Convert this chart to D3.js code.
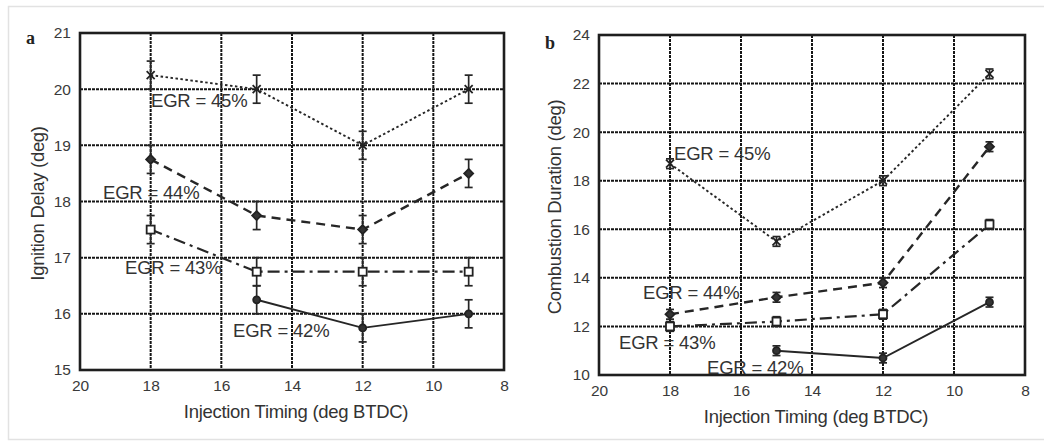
<!DOCTYPE html>
<html>
<head>
<meta charset="utf-8">
<script src="https://cdn.jsdelivr.net/npm/d3@7"></script>
<style>
  html, body { margin: 0; padding: 0; background: #fff; }
  svg { display: block; }
  text { font-family: "Liberation Sans", Arial, sans-serif; }
</style>
</head>
<body>
<svg id="chart" width="1044" height="443"></svg>
<script>
// Injection timing (deg BTDC)
const timings = [18, 15, 12, 9];
const xTicks = [20, 18, 16, 14, 12, 10, 8];

// Panel a: ignition delay (deg) per EGR rate
const delay45 = [20.25, 20.0, 19.0, 20.0];
const delay44 = [18.75, 17.75, 17.5, 18.5];
const delay43 = [17.5, 16.75, 16.75, 16.75];
const delay42 = [null, 16.25, 15.75, 16.0];
const delayErr = [0.25, 0.25, 0.25, 0.25];
const delayTicks = [15, 16, 17, 18, 19, 20, 21];

// Panel b: combustion duration (deg) per EGR rate
const dur45 = [18.7, 15.5, 18.0, 22.4];
const dur44 = [12.5, 13.2, 13.8, 19.4];
const dur43 = [12.0, 12.2, 12.5, 16.2];
const dur42 = [null, 11.0, 10.7, 13.0];
const durErr = [0.2, 0.2, 0.2, 0.2];
const durTicks = [10, 12, 14, 16, 18, 20, 22, 24];

const egrLabels = ["EGR = 45%", "EGR = 44%", "EGR = 43%", "EGR = 42%"];

const svg = d3.select("#chart");

// faint outer frame of the figure
svg.append("rect")
  .attr("x", 8.5).attr("y", 6.5).attr("width", 1040).attr("height", 433)
  .attr("fill", "none").attr("stroke", "#e2e2e2").attr("stroke-width", 1.5);

const styles = [
  { dash: "2.5,2.5", width: 1.9, marker: "x" },
  { dash: "9,6", width: 2.4, marker: "diamond" },
  { dash: "12,5,3,5", width: 2.2, marker: "square" },
  { dash: null, width: 1.9, marker: "dot" }
];

function drawPanel(cfg) {
  const { left, right, top, bottom, yDomain, yTicks, series, err, letter, letterPos, yTitle, yTitleOff, labels } = cfg;
  const g = svg.append("g");
  const x = d3.scaleLinear().domain([20, 8]).range([left, right]);
  const y = d3.scaleLinear().domain(yDomain).range([bottom, top]);

  // grid
  const grid = g.append("g").attr("stroke", "#151515").attr("stroke-width", 2).attr("stroke-dasharray", "3,1");
  grid.selectAll("line.v").data(xTicks.filter(t => t !== 20 && t !== 8)).join("line")
    .attr("x1", d => x(d)).attr("x2", d => x(d)).attr("y1", top).attr("y2", bottom);
  grid.selectAll("line.h").data(yTicks.filter(t => t !== yDomain[0] && t !== yDomain[1])).join("line")
    .attr("x1", left).attr("x2", right).attr("y1", d => y(d)).attr("y2", d => y(d));

  // axes
  const xAxis = d3.axisBottom(x).tickValues(xTicks).tickSize(0).tickPadding(10).tickFormat(d3.format("d"));
  const yAxis = d3.axisLeft(y).tickValues(yTicks).tickSize(0).tickPadding(9).tickFormat(d3.format("d"));
  const gx = g.append("g").attr("transform", `translate(0,${bottom})`).call(xAxis);
  const gy = g.append("g").attr("transform", `translate(${left},0)`).call(yAxis);
  [gx, gy].forEach(a => {
    a.select(".domain").remove();
    a.selectAll("text").attr("fill", "#3a3a3a").style("font-size", "15.5px");
  });

  // frame
  g.append("rect").attr("x", left).attr("y", top).attr("width", right - left).attr("height", bottom - top)
    .attr("fill", "none").attr("stroke", "#1e1e1e").attr("stroke-width", 2.6);

  // series
  series.forEach((vals, i) => {
    const st = styles[i];
    const pts = timings.map((t, j) => ({ t, v: vals[j], e: err[j] })).filter(p => p.v != null);
    const line = d3.line().x(p => x(p.t)).y(p => y(p.v));
    g.append("path").attr("d", line(pts)).attr("fill", "none").attr("stroke", "#262626")
      .attr("stroke-width", st.width).attr("stroke-dasharray", st.dash);

    // error bars
    const eb = g.append("g").attr("stroke", "#262626").attr("stroke-width", 1.7);
    pts.forEach(p => {
      const cx = x(p.t), y1 = y(p.v + p.e), y2 = y(p.v - p.e);
      eb.append("line").attr("x1", cx).attr("x2", cx).attr("y1", y1).attr("y2", y2);
      eb.append("line").attr("x1", cx - 4).attr("x2", cx + 4).attr("y1", y1).attr("y2", y1);
      eb.append("line").attr("x1", cx - 4).attr("x2", cx + 4).attr("y1", y2).attr("y2", y2);
    });

    // markers
    const mk = g.append("g").attr("stroke", "#222").attr("stroke-width", 1.8);
    pts.forEach(p => {
      const cx = x(p.t), cy = y(p.v);
      if (st.marker === "x") {
        mk.append("path").attr("d", `M${cx-4},${cy-4}L${cx+4},${cy+4}M${cx-4},${cy+4}L${cx+4},${cy-4}`).attr("fill", "none");
      } else if (st.marker === "diamond") {
        mk.append("path").attr("d", `M${cx},${cy-4.5}L${cx+4.5},${cy}L${cx},${cy+4.5}L${cx-4.5},${cy}Z`).attr("fill", "#333");
      } else if (st.marker === "square") {
        mk.append("rect").attr("x", cx - 4).attr("y", cy - 4).attr("width", 8).attr("height", 8).attr("fill", "#fff");
      } else {
        mk.append("circle").attr("cx", cx).attr("cy", cy).attr("r", 3.5).attr("fill", "#333");
      }
    });
  });

  // series labels
  labels.forEach((l, i) => {
    g.append("text").attr("x", l[0]).attr("y", l[1]).attr("fill", "#333")
      .style("font-size", "18.5px").style("letter-spacing", "-0.2px").text(egrLabels[i]);
  });

  // axis titles
  g.append("text").attr("x", (left + right) / 2 + 4).attr("y", bottom + 48).attr("text-anchor", "middle")
    .attr("fill", "#333").style("font-size", "18.5px").style("letter-spacing", "-0.3px")
    .text("Injection Timing (deg BTDC)");
  g.append("text").attr("transform", `translate(${left - yTitleOff},${(top + bottom) / 2 + 2}) rotate(-90)`)
    .attr("text-anchor", "middle").attr("fill", "#333").style("font-size", "18.5px").style("letter-spacing", "-0.3px")
    .text(yTitle);

  // panel letter
  g.append("text").attr("x", letterPos[0]).attr("y", letterPos[1]).attr("fill", "#222")
    .style("font-family", "'Liberation Serif', 'Times New Roman', serif").style("font-weight", "bold")
    .style("font-size", "18px").text(letter);
}

drawPanel({
  left: 80, right: 504, top: 33, bottom: 370,
  yDomain: [15, 21], yTicks: delayTicks,
  series: [delay45, delay44, delay43, delay42], err: delayErr,
  letter: "a", letterPos: [26, 44], yTitleOff: 36,
  yTitle: "Ignition Delay (deg)",
  labels: [[151, 107], [103, 199], [125, 274], [233, 337]]
});

drawPanel({
  left: 599, right: 1025, top: 35, bottom: 375,
  yDomain: [10, 24], yTicks: durTicks,
  series: [dur45, dur44, dur43, dur42], err: durErr,
  letter: "b", letterPos: [545, 49], yTitleOff: 38,
  yTitle: "Combustion Duration (deg)",
  labels: [[674, 160], [643, 299], [619, 349], [707, 374]]
});
</script>
</body>
</html>
